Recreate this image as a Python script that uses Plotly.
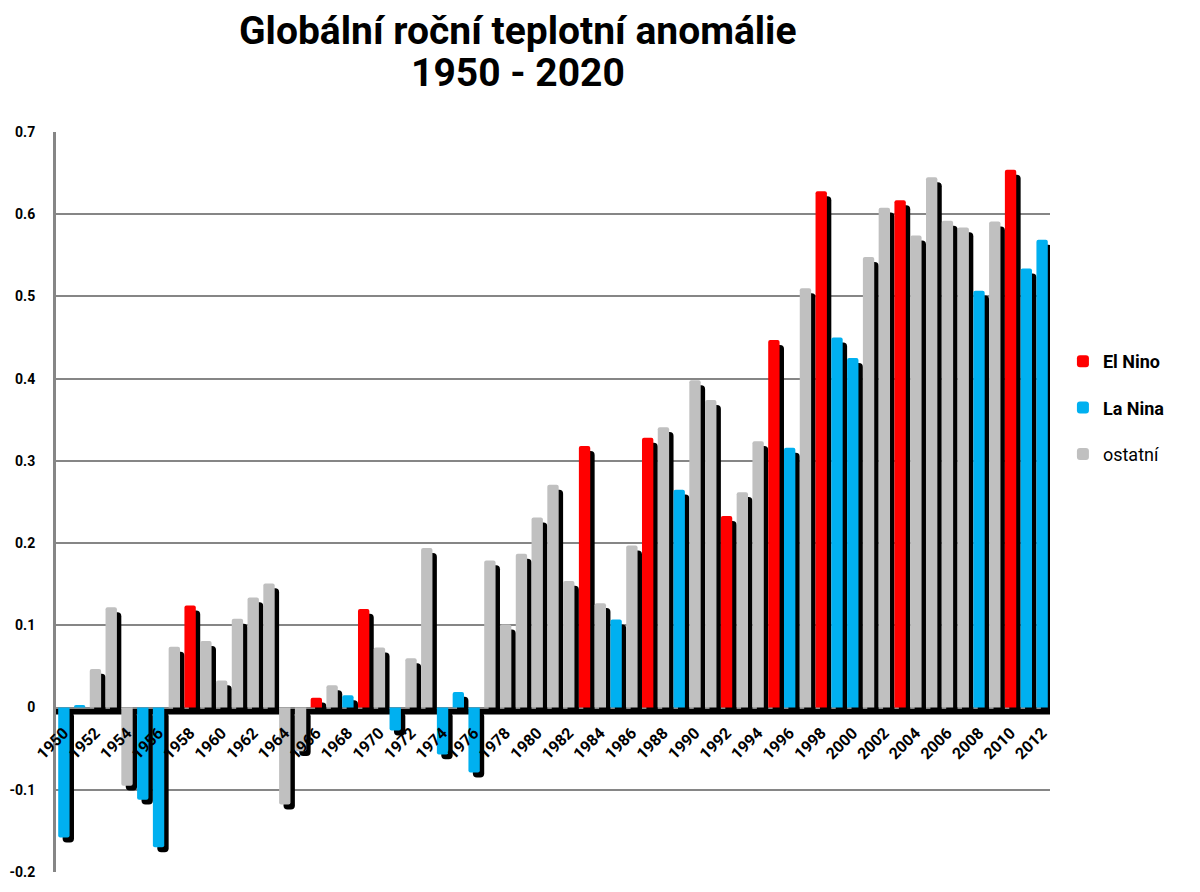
import plotly.graph_objects as go

# roky a globální anomálie
years = list(range(1950, 2013))
anomaly = [
    -0.158, 0.003, 0.047, 0.122, -0.095, -0.112, -0.170, 0.074, 0.124, 0.081,
    0.033, 0.108, 0.134, 0.151, -0.118, -0.053, 0.012, 0.027, 0.015, 0.120,
    0.073, -0.028, 0.060, 0.194, -0.057, 0.019, -0.079, 0.179, 0.101, 0.187,
    0.231, 0.271, 0.154, 0.318, 0.127, 0.107, 0.197, 0.328, 0.341, 0.265,
    0.398, 0.374, 0.233, 0.262, 0.324, 0.447, 0.316, 0.510, 0.628, 0.450,
    0.425, 0.548, 0.608, 0.617, 0.574, 0.645, 0.592, 0.584, 0.507, 0.591,
    0.654, 0.534, 0.569,
]
el_nino_years = [1958, 1966, 1969, 1983, 1987, 1992, 1995, 1998, 2003, 2010]
la_nina_years = [1950, 1951, 1955, 1956, 1968, 1971, 1974, 1975, 1976, 1985,
                 1989, 1996, 1999, 2000, 2008, 2011, 2012]
y_ticks = [-0.2, -0.1, 0, 0.1, 0.2, 0.3, 0.4, 0.5, 0.6, 0.7]
y_labels = ["-0.2", "-0.1", "0", "0.1", "0.2", "0.3", "0.4", "0.5", "0.6", "0.7"]

groups = [
    ("<b>El Nino</b>", "#ff0000", lambda y: y in el_nino_years),
    ("<b>La Nina</b>", "#00b0f0", lambda y: y in la_nina_years),
    ("ostatní", "#c0c0c0", lambda y: y not in el_nino_years and y not in la_nina_years),
]

fig = go.Figure()

# černý stín za sloupci
fig.add_trace(go.Bar(
    x=years, y=anomaly, base=-0.006,
    width=0.72, offset=-0.08,
    marker=dict(color="black", line_width=0, cornerradius=4),
    showlegend=False, hoverinfo="skip",
))

for i, (name, color, test) in enumerate(groups):
    xs = [y for y in years if test(y)]
    vs = [v for y, v in zip(years, anomaly) if test(y)]
    fig.add_trace(go.Bar(
        x=xs, y=vs, name=name, legendgroup=str(i),
        width=0.72, offset=-0.36,
        marker=dict(color=color, line_width=0, cornerradius=2),
    ))

# černý pás pod nulovou osou
fig.add_shape(
    type="rect", xref="x", yref="y",
    x0=1949.5, x1=2012.5, y0=-0.0085, y1=0,
    fillcolor="black", line_width=0, layer="below",
)

# nadpis - dva řádky zvlášť kvůli řádkování
fig.add_annotation(
    text="<b>Globální roční teplotní anomálie</b>",
    xref="paper", yref="paper", x=0.465, y=1.136,
    xanchor="center", yanchor="middle", showarrow=False,
    font=dict(size=39, family="Roboto", color="black"),
)
fig.add_annotation(
    text="<b>1950 - 2020</b>",
    xref="paper", yref="paper", x=0.465, y=1.080,
    xanchor="center", yanchor="middle", showarrow=False,
    font=dict(size=39, family="Roboto", color="black"),
)

# stránka má 8px okraj, proto jsou okraje posunuté
fig.update_layout(
    width=1200, height=892,
    barmode="overlay",
    plot_bgcolor="white", paper_bgcolor="white",
    margin=dict(l=48, r=158, t=124, b=28),
    font=dict(family="Roboto", color="black"),
    legend=dict(
        x=1.013, xanchor="left", y=0.627, yanchor="middle",
        font=dict(size=18, family="Roboto"),
        tracegroupgap=20, bgcolor="rgba(0,0,0,0)",
    ),
    xaxis=dict(
        range=[1949.5, 2012.5], automargin=False,
        anchor="free", position=0.2222,
        tickmode="array",
        tickvals=years[::2], ticktext=[str(y) for y in years[::2]],
        tickangle=-45, ticks="", showgrid=False, showline=False,
        tickfont=dict(size=16, weight="bold"),
        ticklabelstandoff=12,
    ),
    yaxis=dict(
        range=[-0.2, 0.7], automargin=False,
        tickmode="array", tickvals=y_ticks, ticktext=y_labels,
        showgrid=True, gridcolor="#868686", gridwidth=2,
        zeroline=True, zerolinecolor="#868686", zerolinewidth=2,
        showline=True, linecolor="#868686", linewidth=3,
        ticks="", tickfont=dict(size=14, weight="bold"),
        ticklabelstandoff=15,
    ),
)

fig.write_html("out.html")
